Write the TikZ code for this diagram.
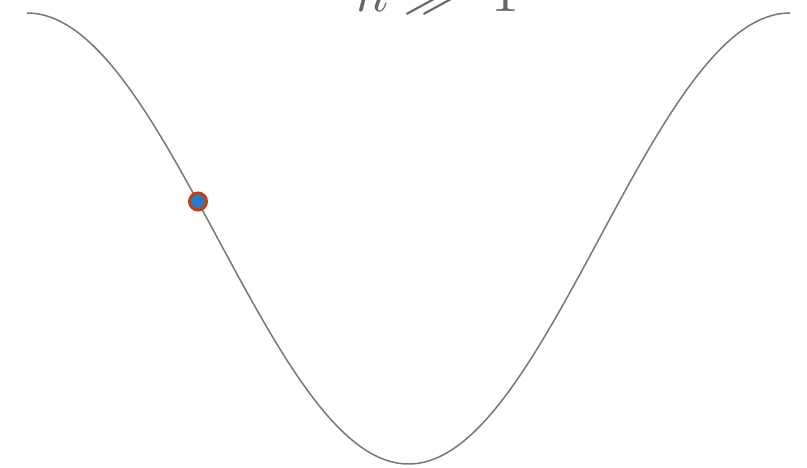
\documentclass[tikz,border=0pt]{standalone}
\definecolor{curvegray}{RGB}{120,120,120}
\definecolor{ringred}{RGB}{204,60,10}
\definecolor{dotblue}{RGB}{30,125,205}
\begin{document}
\begin{tikzpicture}[x=1pt,y=-1pt,
  curve/.style={draw=curvegray, line width=1.5pt},
  ball/.style={circle, fill=dotblue, draw=ringred, line width=3pt, minimum size=17pt, inner sep=0pt}]
\useasboundingbox (0,0) rectangle (807,468);
\draw[curve, domain=27:790, samples=300, smooth] plot (\x, {13+225.5*(1-cos(0.471822*(\x-27)))});
\node[ball] (dot) at (198,201.5) {};
\node[anchor=base west, scale=5.6, text=black!60, inner sep=0pt] (label) at (355,12) {$h \gg \mskip 5mu 1$};
\end{tikzpicture}
\end{document}
